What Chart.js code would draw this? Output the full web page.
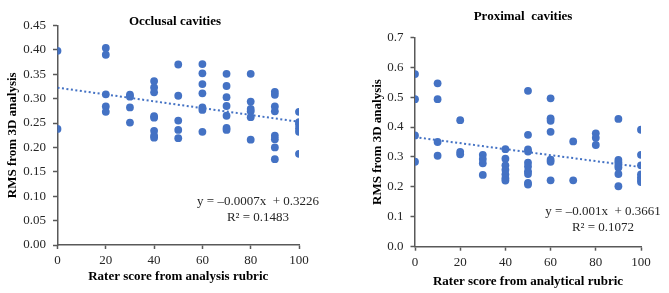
<!DOCTYPE html>
<html>
<head>
<meta charset="utf-8">
<script src="https://cdn.jsdelivr.net/npm/chart.js@4.4.0/dist/chart.umd.min.js"></script>
<style>
  html, body { margin: 0; padding: 0; background: #fff; }
  #wrap { position: relative; width: 669px; height: 293px; overflow: hidden; }
  .box { position: absolute; top: 0; height: 293px; }
</style>
</head>
<body>
<div id="wrap">
  <div class="box" style="left:0;width:335px"><canvas id="c1"></canvas></div>
  <div class="box" style="left:335px;width:334px"><canvas id="c2"></canvas></div>
</div>
<script>
// ---- Data: Occlusal cavities ----
const occlusalScores = [
  0, 0,
  20, 20, 20, 20, 20,
  30, 30, 30, 30,
  40, 40, 40, 40, 40, 40, 40, 40,
  50, 50, 50, 50, 50,
  60, 60, 60, 60, 60, 60, 60,
  70, 70, 70, 70, 70, 70, 70,
  80, 80, 80, 80, 80, 80,
  90, 90, 90, 90, 90, 90, 90, 90,
  100, 100, 100, 100, 100, 100
];
const occlusalRms = [
  0.398, 0.238,
  0.404, 0.390, 0.309, 0.284, 0.273,
  0.308, 0.304, 0.282, 0.251,
  0.336, 0.323, 0.313, 0.264, 0.261, 0.234, 0.224, 0.220,
  0.370, 0.306, 0.255, 0.236, 0.219,
  0.371, 0.352, 0.330, 0.311, 0.282, 0.277, 0.232,
  0.351, 0.326, 0.303, 0.285, 0.265, 0.240, 0.236,
  0.351, 0.294, 0.279, 0.274, 0.262, 0.216,
  0.314, 0.308, 0.284, 0.274, 0.224, 0.217, 0.200, 0.176,
  0.273, 0.252, 0.247, 0.239, 0.232, 0.187
];
const occlusalTrend = { slope: -0.0007, intercept: 0.3226, r2: '0.1483', eq: 'y = \u20130.0007x  + 0.3226' };

// ---- Data: Proximal cavities ----
const proximalScores = [
  0, 0, 0, 0,
  10, 10, 10, 10,
  20, 20, 20,
  30, 30, 30, 30,
  40, 40, 40, 40, 40, 40, 40,
  50, 50, 50, 50, 50, 50, 50, 50, 50, 50,
  60, 60, 60, 60, 60, 60, 60,
  70, 70,
  80, 80, 80,
  90, 90, 90, 90, 90, 90, 90,
  100, 100, 100, 100, 100, 100, 100
];
const proximalRms = [
  0.577, 0.493, 0.372, 0.284,
  0.546, 0.493, 0.350, 0.304,
  0.423, 0.317, 0.309,
  0.307, 0.293, 0.279, 0.240,
  0.326, 0.294, 0.272, 0.257, 0.242, 0.229, 0.221,
  0.521, 0.374, 0.325, 0.318, 0.281, 0.268, 0.252, 0.243, 0.213, 0.208,
  0.496, 0.429, 0.421, 0.384, 0.291, 0.284, 0.222,
  0.352, 0.222,
  0.379, 0.364, 0.340,
  0.427, 0.290, 0.282, 0.273, 0.265, 0.243, 0.202,
  0.391, 0.307, 0.272, 0.242, 0.232, 0.223, 0.216
];
const proximalTrend = { slope: -0.001, intercept: 0.3661, r2: '0.1072', eq: 'y = \u20130.001x  + 0.3661' };

const xTicks = [0, 20, 40, 60, 80, 100];

const BLUE = '#4472C4';
const AXIS = '#595959';
const TXT = '#262626';
const SERIF = "'Liberation Serif', 'Times New Roman', serif";

function makeChart(id, cfg) {
  const pts = cfg.xs.map((x, i) => ({ x: x, y: cfg.ys[i] }));
  const trend = [0, 100].map(x => ({ x: x, y: cfg.trend.intercept + cfg.trend.slope * x }));
  const annot = {
    id: 'annot' + id,
    afterDraw(chart) {
      const ctx = chart.ctx;
      ctx.save();
      ctx.fillStyle = '#000';
      ctx.textAlign = 'center';
      ctx.textBaseline = 'middle';
      ctx.font = "bold 13px " + SERIF;
      ctx.fillText(cfg.title, cfg.titlePos[0], cfg.titlePos[1]);
      ctx.fillStyle = TXT;
      ctx.font = "13px " + SERIF;
      ctx.fillText(cfg.trend.eq, cfg.eqPos[0], cfg.eqPos[1]);
      ctx.fillText('R\u00B2 = ' + cfg.trend.r2, cfg.eqPos[0], cfg.eqPos[1] + 15.5);
      ctx.restore();
    }
  };
  return new Chart(document.getElementById(id), {
    type: 'scatter',
    data: {
      datasets: [
        { data: pts, backgroundColor: BLUE, borderColor: BLUE, pointRadius: 3.9, pointBorderWidth: 0, order: 1 },
        { type: 'line', data: trend, borderColor: BLUE, borderWidth: 2, borderDash: [2, 2.5], pointRadius: 0, fill: false, order: 2 }
      ]
    },
    options: {
      responsive: true,
      maintainAspectRatio: false,
      animation: false,
      layout: { padding: cfg.padding },
      plugins: { legend: { display: false }, tooltip: { enabled: false }, title: { display: false } },
      scales: {
        x: {
          type: 'linear', min: 0, max: 100,
          afterBuildTicks(s) { s.ticks = xTicks.map(v => ({ value: v })); },
          afterFit(s) { s.height = cfg.xHeight; },
          grid: { drawOnChartArea: false, drawTicks: true, tickLength: 4, tickColor: AXIS, tickWidth: 1.5 },
          border: { color: AXIS, width: 1.5 },
          ticks: { color: TXT, padding: 4, font: { family: SERIF, size: 13 }, maxRotation: 0 },
          title: { display: true, text: cfg.xTitle, color: '#000', font: { family: SERIF, size: 13, weight: 'bold' }, padding: { top: 0, bottom: cfg.xTitlePad } }
        },
        y: {
          type: 'linear', min: 0, max: cfg.yMax,
          afterBuildTicks(s) { s.ticks = cfg.yTicks.map(v => ({ value: v })); },
          afterFit(s) { s.width = cfg.yWidth; },
          grid: { drawOnChartArea: false, drawTicks: true, tickLength: 4.5, tickColor: AXIS, tickWidth: 1.5 },
          border: { color: AXIS, width: 1.5 },
          ticks: { color: TXT, padding: 7, font: { family: SERIF, size: 13 }, callback: v => v.toFixed(cfg.dec) },
          title: { display: true, text: 'RMS from 3D analysis', color: '#000', font: { family: SERIF, size: 13, weight: 'bold' }, padding: { top: cfg.yTitlePad, bottom: 0 } }
        }
      }
    },
    plugins: [annot]
  });
}

const occlusalYTicks = [0, 0.05, 0.10, 0.15, 0.20, 0.25, 0.30, 0.35, 0.40, 0.45];
const proximalYTicks = [0, 0.1, 0.2, 0.3, 0.4, 0.5, 0.6, 0.7];

makeChart('c1', {
  xs: occlusalScores, ys: occlusalRms, trend: occlusalTrend,
  title: 'Occlusal cavities', titlePos: [175, 22], eqPos: [258, 202],
  padding: { left: 0, right: 36, top: 25.5, bottom: 0 },
  xHeight: 48, yWidth: 57.5, xTitlePad: 9, yTitlePad: 5,
  yMax: 0.45, yTicks: occlusalYTicks, dec: 2,
  xTitle: 'Rater score from analysis rubric'
});

makeChart('c2', {
  xs: proximalScores, ys: proximalRms, trend: proximalTrend,
  title: 'Proximal  cavities', titlePos: [188, 17], eqPos: [268, 212],
  padding: { left: 0, right: 28, top: 37.3, bottom: 0 },
  xHeight: 46.3, yWidth: 80, xTitlePad: 4, yTitlePad: 35,
  yMax: 0.7, yTicks: proximalYTicks, dec: 1,
  xTitle: 'Rater score from analytical rubric'
});
</script>
</body>
</html>
